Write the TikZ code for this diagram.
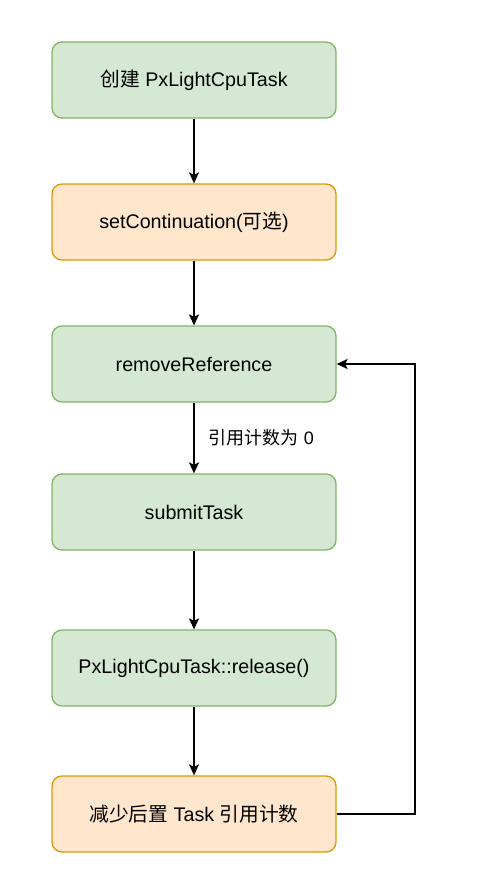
\documentclass[tikz,border=0pt]{standalone}
\usepackage{fontspec}
\setmainfont{Liberation Sans}
\newfontfamily\cjk{Noto Sans CJK SC}
\usetikzlibrary{arrows.meta}
\definecolor{gfill}{HTML}{D5E8D4}
\definecolor{gline}{HTML}{82B366}
\definecolor{ofill}{HTML}{FFE6CC}
\definecolor{oline}{HTML}{D79B00}
\begin{document}
\begin{tikzpicture}[x=1pt,y=-1pt,
  boxbase/.style={rounded corners=10pt,line width=1.3pt,minimum width=284pt,minimum height=76pt,inner sep=0pt,font=\fontsize{19.7}{23}\selectfont},
  gbox/.style={boxbase,draw=gline,fill=gfill},
  obox/.style={boxbase,draw=oline,fill=ofill},
  conn/.style={line width=1.5pt,-{Stealth[length=11pt,width=10pt,inset=2.5pt]}},
  lbl/.style={font=\fontsize{18}{22}\selectfont,inner sep=0pt}]
\useasboundingbox (0,0) rectangle (476,893);
\node[gbox] (b1) at (194,80) {{\cjk 创建} PxLightCpuTask};
\node[obox] (b2) at (194,222) {setContinuation({\cjk 可选})};
\node[gbox] (b3) at (194,364) {removeReference};
\node[gbox] (b4) at (194,512) {submitTask};
\node[gbox] (b5) at (194,668) {PxLightCpuTask::release()};
\node[obox] (b6) at (194,814) {{\cjk 减少后置} Task {\cjk 引用计数}};
\draw[conn] (b1) -- (b2);
\draw[conn] (b2) -- (b3);
\draw[conn] (b3) -- (b4) node[lbl,pos=0.5,anchor=west,xshift=14pt] (l1) {{\cjk 引用计数为} 0};
\draw[conn] (b4) -- (b5);
\draw[conn] (b5) -- (b6);
\coordinate (c1) at (415,814);
\coordinate (c2) at (415,364);
\draw[conn] (b6.east) -- (c1) -- (c2) -- (b3.east);
\end{tikzpicture}
\end{document}
